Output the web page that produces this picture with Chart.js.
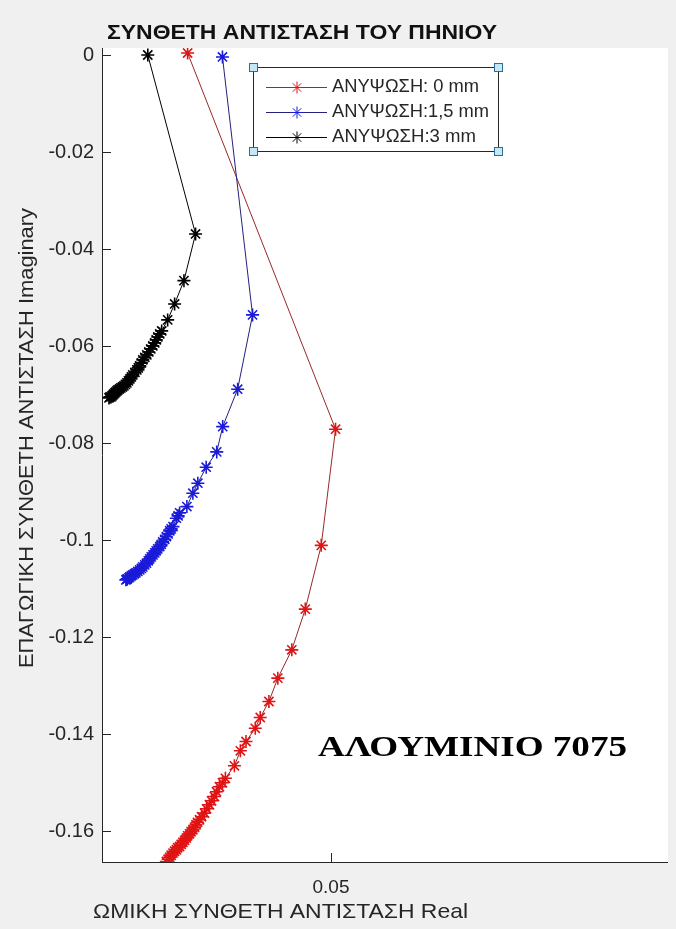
<!DOCTYPE html>
<html>
<head>
<meta charset="utf-8">
<script src="https://cdn.jsdelivr.net/npm/chart.js@4"></script>
<style>
  html, body { margin: 0; padding: 0; background: #f0f0f0; }
  #wrap { width: 676px; height: 929px; position: relative; }
</style>
</head>
<body>
<div id="wrap"><canvas id="chart"></canvas></div>
<script>
// values (Real, Imaginary)
const seriesLabels = ['ΑΝΥΨΩΣΗ: 0 mm', 'ΑΝΥΨΩΣΗ:1,5 mm', 'ΑΝΥΨΩΣΗ:3 mm'];

const real0 = [0.03247, 0.05056, 0.04881, 0.04686, 0.04521, 0.0435, 0.04241, 0.04135, 0.04074, 0.03961,
  0.03892, 0.03819, 0.03709, 0.03673, 0.03636, 0.036, 0.03575, 0.03539, 0.03514, 0.03478,
  0.03454, 0.03417, 0.03393, 0.03368, 0.0335, 0.03332, 0.03311, 0.03289, 0.03271, 0.03247,
  0.03231, 0.0321, 0.03189, 0.03168, 0.03149, 0.03125, 0.03109, 0.03088, 0.03068, 0.03046,
  0.03028, 0.03009, 0.02987];
const imag0 = [0.0004, -0.07711, -0.10105, -0.11419, -0.12258, -0.12841, -0.13323, -0.13653, -0.13875, -0.14147,
  -0.14339, -0.14648, -0.14905, -0.14998, -0.1508, -0.15183, -0.1528, -0.15369, -0.15451, -0.15534,
  -0.15622, -0.15698, -0.1576, -0.15812, -0.15863, -0.15915, -0.15966, -0.16007, -0.16049, -0.1609,
  -0.16137, -0.16183, -0.16224, -0.16265, -0.1631, -0.16337, -0.16378, -0.16409, -0.16446, -0.16491,
  -0.16533, -0.16574, -0.16619];

const real15 = [0.03673, 0.04041, 0.03859, 0.03676, 0.03603, 0.03474, 0.03372, 0.03311, 0.03238, 0.03149,
  0.03131, 0.03109, 0.03068, 0.03046, 0.03028, 0.03009, 0.02987, 0.02967, 0.02942, 0.02924,
  0.02906, 0.02882, 0.02863, 0.02845, 0.02824, 0.02802, 0.02784, 0.02766, 0.02744, 0.02723,
  0.02699, 0.02681, 0.02662, 0.02638, 0.02614, 0.02596, 0.02577, 0.02559, 0.02541, 0.02529,
  0.0251, 0.02504, 0.02492];
const imag15 = [-0.0004, -0.05356, -0.06887, -0.07658, -0.08179, -0.08494, -0.08824, -0.0903, -0.09306, -0.09436,
  -0.09497, -0.09545, -0.09718, -0.09765, -0.09806, -0.09868, -0.09924, -0.09981, -0.10033, -0.10084,
  -0.1013, -0.10177, -0.10218, -0.1026, -0.10301, -0.10342, -0.10383, -0.10424, -0.10472, -0.10507,
  -0.10548, -0.10579, -0.1061, -0.10641, -0.10672, -0.10692, -0.10713, -0.10733, -0.10754, -0.10775,
  -0.10795, -0.10806, -0.10816];

const real3 = [0.0276, 0.03344, 0.03202, 0.03088, 0.03003, 0.0293, 0.02906, 0.02882, 0.02863, 0.02845,
  0.02821, 0.02796, 0.02772, 0.02748, 0.02723, 0.02699, 0.02681, 0.02662, 0.02644, 0.02626,
  0.02602, 0.02577, 0.02559, 0.02541, 0.02523, 0.02504, 0.02486, 0.02468, 0.0245, 0.02431,
  0.02413, 0.02395, 0.02383, 0.0237, 0.02358, 0.02346, 0.02334, 0.02322, 0.0231, 0.02297,
  0.02285];
const imag3 = [0, -0.03688, -0.0465, -0.0513, -0.05459, -0.05686, -0.05748, -0.0581, -0.05871, -0.05933,
  -0.05995, -0.06057, -0.06119, -0.0618, -0.06232, -0.06283, -0.06345, -0.06407, -0.06448, -0.06489,
  -0.06541, -0.06592, -0.06634, -0.06675, -0.06716, -0.06757, -0.06788, -0.06819, -0.0684, -0.0686,
  -0.06881, -0.06902, -0.06922, -0.06943, -0.06963, -0.06984, -0.07005, -0.07025, -0.07046, -0.07046,
  -0.07066];

const yTicks = [0, -0.02, -0.04, -0.06, -0.08, -0.1, -0.12, -0.14, -0.16];
const xTicks = [0.05];

const lineColors = ['#9a2a2a', '#22227e', '#000000'];
const markColors = ['#e01414', '#1a1ad8', '#000000'];

function pts(xs, ys) {
  return xs.map((x, i) => ({ x: x, y: ys[i] }));
}

const axisColor = '#262626';
const sans = '"Liberation Sans", Arial, sans-serif';

// draw text squeezed/stretched to a given width
function fitText(ctx, text, x, y, font, width, align) {
  ctx.save();
  ctx.font = font;
  const w = ctx.measureText(text).width;
  ctx.translate(x, y);
  ctx.scale(width / w, 1);
  ctx.textAlign = align || 'center';
  ctx.textBaseline = 'middle';
  ctx.fillText(text, 0, 0);
  ctx.restore();
}

const matlabLook = {
  id: 'matlabLook',
  beforeDraw(chart) {
    const ctx = chart.ctx, a = chart.chartArea;
    ctx.save();
    ctx.fillStyle = '#f0f0f0';
    ctx.fillRect(0, 0, chart.width, chart.height);
    ctx.fillStyle = '#ffffff';
    ctx.fillRect(a.left, a.top, a.right - a.left, a.bottom - a.top);
    ctx.restore();
  },
  afterDraw(chart) {
    const ctx = chart.ctx, a = chart.chartArea;
    const xs = chart.scales.x, ys = chart.scales.y;
    ctx.save();
    // inward ticks
    ctx.strokeStyle = axisColor;
    ctx.lineWidth = 1;
    ctx.beginPath();
    yTicks.forEach(v => {
      const py = Math.round(ys.getPixelForValue(v)) + 0.5;
      ctx.moveTo(a.left, py); ctx.lineTo(a.left + 9, py);
    });
    xTicks.forEach(v => {
      const px = Math.round(xs.getPixelForValue(v)) + 0.5;
      ctx.moveTo(px, a.bottom); ctx.lineTo(px, a.bottom - 9);
    });
    ctx.stroke();

    // titles
    ctx.fillStyle = '#111111';
    fitText(ctx, 'ΣΥΝΘΕΤΗ ΑΝΤΙΣΤΑΣΗ ΤΟΥ ΠΗΝΙΟΥ', 302, 33, 'bold 21px ' + sans, 390);
    ctx.fillStyle = '#262626';
    fitText(ctx, 'ΩΜΙΚΗ ΣΥΝΘΕΤΗ ΑΝΤΙΣΤΑΣΗ Real', 280.5, 912, '21px ' + sans, 375);
    ctx.save();
    ctx.translate(27, 438);
    ctx.rotate(-Math.PI / 2);
    fitText(ctx, 'ΕΠΑΓΩΓΙΚΗ ΣΥΝΘΕΤΗ ΑΝΤΙΣΤΑΣΗ Imaginary', 0, 0, '21px ' + sans, 460);
    ctx.restore();

    // annotation
    ctx.fillStyle = '#000000';
    fitText(ctx, 'ΑΛΟΥΜΙΝΙΟ 7075', 472.5, 748, 'bold 30px "Liberation Serif", "Times New Roman", serif', 309);

    // legend box
    const L = 253.5, T = 67.5, R = 498.5, B = 151.5;
    ctx.fillStyle = '#ffffff';
    ctx.fillRect(L, T, R - L, B - T);
    ctx.strokeStyle = axisColor;
    ctx.strokeRect(L, T, R - L, B - T);
    const rows = [87, 112, 137];
    const textW = [147, 157, 144];
    chart.data.datasets.forEach((ds, i) => {
      const y = rows[i];
      ctx.strokeStyle = ds.borderColor;
      ctx.lineWidth = 1;
      ctx.beginPath();
      ctx.moveTo(266, y + 0.5); ctx.lineTo(327, y + 0.5);
      ctx.stroke();
      ctx.strokeStyle = ds.pointBorderColor;
      Chart.helpers.drawPoint(ctx, { pointStyle: 'star', radius: 6, borderWidth: 1.4, rotation: 0 }, 297, y + 0.5);
      ctx.fillStyle = '#262626';
      fitText(ctx, ds.label, 332, y, '18px ' + sans, textW[i], 'left');
    });
    // selection handles
    ctx.fillStyle = '#c4e8f6';
    ctx.strokeStyle = '#2f6c98';
    ctx.lineWidth = 1;
    [[L, T], [R, T], [L, B], [R, B]].forEach(c => {
      ctx.fillRect(c[0] - 4, c[1] - 4, 8, 8);
      ctx.strokeRect(c[0] - 4, c[1] - 4, 8, 8);
    });
    ctx.restore();
  }
};

function series(i, xs, ys) {
  return {
    label: seriesLabels[i],
    data: pts(xs, ys),
    showLine: true,
    borderColor: lineColors[i],
    borderWidth: 1,
    pointStyle: 'star',
    pointRadius: 6.5,
    pointBorderWidth: 1.6,
    pointBorderColor: markColors[i],
    pointBackgroundColor: markColors[i],
    tension: 0,
    order: 3 - i
  };
}

new Chart(document.getElementById('chart'), {
  type: 'scatter',
  data: {
    datasets: [
      series(0, real0, imag0),
      series(1, real15, imag15),
      series(2, real3, imag3)
    ]
  },
  options: {
    responsive: true,
    maintainAspectRatio: false,
    animation: false,
    layout: { padding: { top: 48, right: 6, left: 0, bottom: 0 } },
    plugins: {
      legend: { display: false },
      title: { display: false },
      tooltip: { enabled: false }
    },
    scales: {
      x: {
        type: 'linear',
        min: 0.022,
        max: 0.0912,
        afterFit(s) { s.height = 67; },
        afterBuildTicks(s) { s.ticks = xTicks.map(v => ({ value: v })); },
        grid: { drawOnChartArea: false, drawTicks: false },
        border: { display: true, color: axisColor, width: 1 },
        ticks: {
          padding: 14,
          color: '#262626',
          font: { family: sans, size: 19 },
          callback: v => String(parseFloat(v.toFixed(3)))
        }
      },
      y: {
        type: 'linear',
        min: -0.1663,
        max: 0.00144,
        afterFit(s) { s.width = 102; },
        afterBuildTicks(s) { s.ticks = yTicks.map(v => ({ value: v })); },
        grid: { drawOnChartArea: false, drawTicks: false },
        border: { display: true, color: axisColor, width: 1 },
        ticks: {
          padding: 8,
          color: '#262626',
          font: { family: sans, size: 20 },
          callback: v => String(parseFloat(v.toFixed(3)))
        }
      }
    }
  },
  plugins: [matlabLook]
});
</script>
</body>
</html>
